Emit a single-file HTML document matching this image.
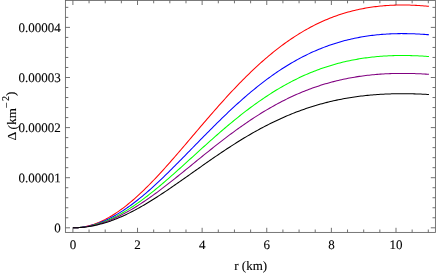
<!DOCTYPE html>
<html><head><meta charset="utf-8"><title>plot</title>
<style>
html,body{margin:0;padding:0;background:#fff;}
body{width:436px;height:273px;overflow:hidden;}
svg{display:block;}
text{font-family:"Liberation Serif",serif;fill:#000;stroke:#000;stroke-width:0.12px;}
</style></head><body>
<svg width="436" height="273" viewBox="0 0 436 273">
<rect x="0" y="0" width="436" height="273" fill="#fff"/>
<polyline fill="none" stroke="#ff0000" stroke-width="1.05" stroke-linejoin="round" points="72.90,227.80 74.52,227.78 76.14,227.71 77.76,227.61 79.37,227.46 80.99,227.26 82.61,227.03 84.23,226.75 85.85,226.43 87.47,226.07 89.08,225.66 90.70,225.21 92.32,224.73 93.94,224.20 95.56,223.63 97.18,223.02 98.79,222.37 100.41,221.67 102.03,220.94 103.65,220.17 105.27,219.37 106.89,218.52 108.51,217.64 110.12,216.71 111.74,215.76 113.36,214.76 114.98,213.73 116.60,212.67 118.22,211.57 119.83,210.44 121.45,209.27 123.07,208.07 124.69,206.84 126.31,205.58 127.93,204.28 129.55,202.96 131.16,201.61 132.78,200.23 134.40,198.82 136.02,197.38 137.64,195.92 139.26,194.43 140.87,192.92 142.49,191.38 144.11,189.82 145.73,188.24 147.35,186.63 148.97,185.00 150.58,183.36 152.20,181.69 153.82,180.01 155.44,178.30 157.06,176.58 158.68,174.84 160.30,173.09 161.91,171.32 163.53,169.54 165.15,167.75 166.77,165.94 168.39,164.12 170.01,162.29 171.62,160.45 173.24,158.61 174.86,156.75 176.48,154.88 178.10,153.01 179.72,151.13 181.34,149.25 182.95,147.36 184.57,145.47 186.19,143.57 187.81,141.67 189.43,139.77 191.05,137.87 192.66,135.96 194.28,134.06 195.90,132.16 197.52,130.26 199.14,128.36 200.76,126.46 202.37,124.57 203.99,122.68 205.61,120.80 207.23,118.92 208.85,117.05 210.47,115.18 212.09,113.32 213.70,111.47 215.32,109.62 216.94,107.79 218.56,105.96 220.18,104.14 221.80,102.33 223.41,100.54 225.03,98.75 226.65,96.97 228.27,95.21 229.89,93.46 231.51,91.72 233.13,89.99 234.74,88.28 236.36,86.58 237.98,84.90 239.60,83.23 241.22,81.57 242.84,79.93 244.45,78.30 246.07,76.69 247.69,75.10 249.31,73.52 250.93,71.96 252.55,70.41 254.16,68.89 255.78,67.38 257.40,65.88 259.02,64.41 260.64,62.95 262.26,61.51 263.88,60.08 265.49,58.68 267.11,57.29 268.73,55.93 270.35,54.58 271.97,53.25 273.59,51.94 275.20,50.64 276.82,49.37 278.44,48.12 280.06,46.88 281.68,45.66 283.30,44.47 284.92,43.29 286.53,42.13 288.15,40.99 289.77,39.87 291.39,38.77 293.01,37.69 294.63,36.63 296.24,35.59 297.86,34.57 299.48,33.56 301.10,32.58 302.72,31.62 304.34,30.67 305.95,29.74 307.57,28.84 309.19,27.95 310.81,27.08 312.43,26.23 314.05,25.40 315.67,24.59 317.28,23.79 318.90,23.02 320.52,22.26 322.14,21.52 323.76,20.80 325.38,20.10 326.99,19.41 328.61,18.75 330.23,18.10 331.85,17.47 333.47,16.86 335.09,16.26 336.71,15.68 338.32,15.12 339.94,14.58 341.56,14.05 343.18,13.54 344.80,13.04 346.42,12.57 348.03,12.10 349.65,11.66 351.27,11.23 352.89,10.82 354.51,10.42 356.13,10.04 357.74,9.67 359.36,9.32 360.98,8.98 362.60,8.66 364.22,8.36 365.84,8.06 367.46,7.79 369.07,7.52 370.69,7.27 372.31,7.04 373.93,6.82 375.55,6.61 377.17,6.41 378.78,6.23 380.40,6.07 382.02,5.91 383.64,5.77 385.26,5.64 386.88,5.52 388.50,5.42 390.11,5.32 391.73,5.24 393.35,5.18 394.97,5.12 396.59,5.07 398.21,5.04 399.82,5.01 401.44,5.00 403.06,5.00 404.68,5.01 406.30,5.03 407.92,5.06 409.53,5.10 411.15,5.15 412.77,5.21 414.39,5.28 416.01,5.36 417.63,5.45 419.25,5.55 420.86,5.66 422.48,5.77 424.10,5.90 425.72,6.03 427.34,6.18 428.96,6.33"/>
<polyline fill="none" stroke="#0000ff" stroke-width="1.05" stroke-linejoin="round" points="72.90,227.80 74.52,227.78 76.14,227.73 77.76,227.63 79.37,227.50 80.99,227.33 82.61,227.13 84.23,226.88 85.85,226.60 87.47,226.29 89.08,225.94 90.70,225.55 92.32,225.12 93.94,224.66 95.56,224.16 97.18,223.63 98.79,223.06 100.41,222.46 102.03,221.82 103.65,221.15 105.27,220.45 106.89,219.71 108.51,218.94 110.12,218.14 111.74,217.30 113.36,216.44 114.98,215.54 116.60,214.61 118.22,213.65 119.83,212.67 121.45,211.65 123.07,210.60 124.69,209.53 126.31,208.43 127.93,207.30 129.55,206.15 131.16,204.97 132.78,203.77 134.40,202.54 136.02,201.29 137.64,200.01 139.26,198.71 140.87,197.40 142.49,196.06 144.11,194.69 145.73,193.31 147.35,191.92 148.97,190.50 150.58,189.06 152.20,187.61 153.82,186.14 155.44,184.66 157.06,183.16 158.68,181.64 160.30,180.11 161.91,178.57 163.53,177.02 165.15,175.46 166.77,173.88 168.39,172.30 170.01,170.70 171.62,169.10 173.24,167.49 174.86,165.87 176.48,164.24 178.10,162.61 179.72,160.97 181.34,159.33 182.95,157.68 184.57,156.03 186.19,154.38 187.81,152.73 189.43,151.07 191.05,149.41 192.66,147.75 194.28,146.09 195.90,144.44 197.52,142.78 199.14,141.12 200.76,139.47 202.37,137.82 203.99,136.18 205.61,134.53 207.23,132.90 208.85,131.26 210.47,129.64 212.09,128.02 213.70,126.40 215.32,124.79 216.94,123.19 218.56,121.60 220.18,120.02 221.80,118.44 223.41,116.87 225.03,115.32 226.65,113.77 228.27,112.23 229.89,110.70 231.51,109.19 233.13,107.68 234.74,106.19 236.36,104.71 237.98,103.24 239.60,101.78 241.22,100.34 242.84,98.91 244.45,97.49 246.07,96.09 247.69,94.70 249.31,93.33 250.93,91.96 252.55,90.62 254.16,89.29 255.78,87.97 257.40,86.67 259.02,85.38 260.64,84.11 262.26,82.85 263.88,81.61 265.49,80.39 267.11,79.18 268.73,77.99 270.35,76.81 271.97,75.65 273.59,74.51 275.20,73.38 276.82,72.27 278.44,71.18 280.06,70.10 281.68,69.04 283.30,68.00 284.92,66.98 286.53,65.97 288.15,64.97 289.77,64.00 291.39,63.04 293.01,62.10 294.63,61.17 296.24,60.26 297.86,59.37 299.48,58.50 301.10,57.64 302.72,56.80 304.34,55.98 305.95,55.17 307.57,54.38 309.19,53.60 310.81,52.85 312.43,52.10 314.05,51.38 315.67,50.67 317.28,49.98 318.90,49.30 320.52,48.64 322.14,48.00 323.76,47.37 325.38,46.76 326.99,46.16 328.61,45.58 330.23,45.02 331.85,44.47 333.47,43.93 335.09,43.41 336.71,42.91 338.32,42.42 339.94,41.95 341.56,41.49 343.18,41.04 344.80,40.61 346.42,40.19 348.03,39.79 349.65,39.40 351.27,39.03 352.89,38.67 354.51,38.32 356.13,37.99 357.74,37.67 359.36,37.37 360.98,37.07 362.60,36.79 364.22,36.52 365.84,36.27 367.46,36.03 369.07,35.80 370.69,35.58 372.31,35.38 373.93,35.18 375.55,35.00 377.17,34.83 378.78,34.68 380.40,34.53 382.02,34.39 383.64,34.27 385.26,34.16 386.88,34.06 388.50,33.96 390.11,33.88 391.73,33.81 393.35,33.75 394.97,33.70 396.59,33.66 398.21,33.63 399.82,33.61 401.44,33.60 403.06,33.60 404.68,33.61 406.30,33.63 407.92,33.65 409.53,33.69 411.15,33.73 412.77,33.78 414.39,33.85 416.01,33.91 417.63,33.99 419.25,34.08 420.86,34.17 422.48,34.27 424.10,34.38 425.72,34.50 427.34,34.62 428.96,34.76"/>
<polyline fill="none" stroke="#00ff00" stroke-width="1.05" stroke-linejoin="round" points="72.90,227.80 74.52,227.78 76.14,227.73 77.76,227.65 79.37,227.53 80.99,227.38 82.61,227.20 84.23,226.99 85.85,226.74 87.47,226.46 89.08,226.15 90.70,225.80 92.32,225.42 93.94,225.01 95.56,224.57 97.18,224.10 98.79,223.60 100.41,223.06 102.03,222.50 103.65,221.90 105.27,221.28 106.89,220.62 108.51,219.94 110.12,219.23 111.74,218.49 113.36,217.72 114.98,216.92 116.60,216.10 118.22,215.25 119.83,214.37 121.45,213.47 123.07,212.54 124.69,211.59 126.31,210.61 127.93,209.61 129.55,208.59 131.16,207.54 132.78,206.48 134.40,205.39 136.02,204.28 137.64,203.15 139.26,201.99 140.87,200.82 142.49,199.64 144.11,198.43 145.73,197.20 147.35,195.96 148.97,194.70 150.58,193.43 152.20,192.14 153.82,190.84 155.44,189.52 157.06,188.19 158.68,186.85 160.30,185.49 161.91,184.13 163.53,182.75 165.15,181.36 166.77,179.96 168.39,178.56 170.01,177.14 171.62,175.72 173.24,174.29 174.86,172.85 176.48,171.41 178.10,169.96 179.72,168.51 181.34,167.05 182.95,165.59 184.57,164.13 186.19,162.66 187.81,161.19 189.43,159.72 191.05,158.25 192.66,156.78 194.28,155.31 195.90,153.84 197.52,152.37 199.14,150.90 200.76,149.43 202.37,147.97 203.99,146.51 205.61,145.05 207.23,143.60 208.85,142.15 210.47,140.71 212.09,139.27 213.70,137.84 215.32,136.41 216.94,134.99 218.56,133.58 220.18,132.17 221.80,130.77 223.41,129.38 225.03,128.00 226.65,126.63 228.27,125.26 229.89,123.91 231.51,122.56 233.13,121.23 234.74,119.90 236.36,118.59 237.98,117.29 239.60,116.00 241.22,114.71 242.84,113.45 244.45,112.19 246.07,110.94 247.69,109.71 249.31,108.49 250.93,107.28 252.55,106.09 254.16,104.91 255.78,103.74 257.40,102.58 259.02,101.44 260.64,100.31 262.26,99.20 263.88,98.10 265.49,97.01 267.11,95.94 268.73,94.88 270.35,93.84 271.97,92.81 273.59,91.80 275.20,90.80 276.82,89.81 278.44,88.84 280.06,87.89 281.68,86.95 283.30,86.02 284.92,85.11 286.53,84.22 288.15,83.34 289.77,82.47 291.39,81.62 293.01,80.78 294.63,79.96 296.24,79.16 297.86,78.37 299.48,77.59 301.10,76.83 302.72,76.08 304.34,75.35 305.95,74.64 307.57,73.93 309.19,73.25 310.81,72.58 312.43,71.92 314.05,71.27 315.67,70.65 317.28,70.03 318.90,69.43 320.52,68.85 322.14,68.28 323.76,67.72 325.38,67.18 326.99,66.65 328.61,66.13 330.23,65.63 331.85,65.14 333.47,64.67 335.09,64.21 336.71,63.76 338.32,63.33 339.94,62.90 341.56,62.50 343.18,62.10 344.80,61.72 346.42,61.35 348.03,60.99 349.65,60.65 351.27,60.32 352.89,60.00 354.51,59.69 356.13,59.40 357.74,59.11 359.36,58.84 360.98,58.58 362.60,58.33 364.22,58.10 365.84,57.87 367.46,57.65 369.07,57.45 370.69,57.26 372.31,57.08 373.93,56.91 375.55,56.74 377.17,56.59 378.78,56.45 380.40,56.32 382.02,56.20 383.64,56.09 385.26,55.99 386.88,55.90 388.50,55.82 390.11,55.75 391.73,55.69 393.35,55.64 394.97,55.59 396.59,55.56 398.21,55.53 399.82,55.51 401.44,55.50 403.06,55.50 404.68,55.51 406.30,55.52 407.92,55.55 409.53,55.58 411.15,55.62 412.77,55.66 414.39,55.72 416.01,55.78 417.63,55.85 419.25,55.92 420.86,56.01 422.48,56.10 424.10,56.19 425.72,56.30 427.34,56.41 428.96,56.53"/>
<polyline fill="none" stroke="#800080" stroke-width="1.05" stroke-linejoin="round" points="72.90,227.80 74.52,227.79 76.14,227.74 77.76,227.67 79.37,227.56 80.99,227.43 82.61,227.26 84.23,227.07 85.85,226.85 87.47,226.60 89.08,226.32 90.70,226.01 92.32,225.67 93.94,225.30 95.56,224.91 97.18,224.48 98.79,224.03 100.41,223.55 102.03,223.05 103.65,222.52 105.27,221.96 106.89,221.37 108.51,220.76 110.12,220.12 111.74,219.45 113.36,218.77 114.98,218.05 116.60,217.31 118.22,216.55 119.83,215.77 121.45,214.96 123.07,214.13 124.69,213.27 126.31,212.40 127.93,211.50 129.55,210.59 131.16,209.65 132.78,208.69 134.40,207.72 136.02,206.72 137.64,205.71 139.26,204.68 140.87,203.63 142.49,202.56 144.11,201.48 145.73,200.38 147.35,199.27 148.97,198.14 150.58,197.00 152.20,195.85 153.82,194.68 155.44,193.50 157.06,192.31 158.68,191.10 160.30,189.89 161.91,188.66 163.53,187.43 165.15,186.18 166.77,184.93 168.39,183.67 170.01,182.40 171.62,181.13 173.24,179.85 174.86,178.56 176.48,177.27 178.10,175.97 179.72,174.67 181.34,173.36 182.95,172.05 184.57,170.74 186.19,169.43 187.81,168.11 189.43,166.79 191.05,165.48 192.66,164.16 194.28,162.84 195.90,161.52 197.52,160.20 199.14,158.89 200.76,157.57 202.37,156.26 203.99,154.95 205.61,153.65 207.23,152.35 208.85,151.05 210.47,149.75 212.09,148.47 213.70,147.18 215.32,145.90 216.94,144.63 218.56,143.36 220.18,142.11 221.80,140.85 223.41,139.61 225.03,138.37 226.65,137.14 228.27,135.92 229.89,134.70 231.51,133.50 233.13,132.30 234.74,131.11 236.36,129.94 237.98,128.77 239.60,127.61 241.22,126.46 242.84,125.33 244.45,124.20 246.07,123.08 247.69,121.98 249.31,120.89 250.93,119.80 252.55,118.73 254.16,117.67 255.78,116.63 257.40,115.59 259.02,114.57 260.64,113.56 262.26,112.56 263.88,111.57 265.49,110.60 267.11,109.64 268.73,108.69 270.35,107.76 271.97,106.84 273.59,105.93 275.20,105.03 276.82,104.15 278.44,103.28 280.06,102.42 281.68,101.58 283.30,100.75 284.92,99.94 286.53,99.13 288.15,98.34 289.77,97.57 291.39,96.81 293.01,96.06 294.63,95.32 296.24,94.60 297.86,93.89 299.48,93.20 301.10,92.51 302.72,91.85 304.34,91.19 305.95,90.55 307.57,89.92 309.19,89.30 310.81,88.70 312.43,88.11 314.05,87.54 315.67,86.97 317.28,86.42 318.90,85.89 320.52,85.36 322.14,84.85 323.76,84.35 325.38,83.86 326.99,83.39 328.61,82.93 330.23,82.48 331.85,82.04 333.47,81.62 335.09,81.20 336.71,80.80 338.32,80.41 339.94,80.04 341.56,79.67 343.18,79.32 344.80,78.97 346.42,78.64 348.03,78.32 349.65,78.01 351.27,77.72 352.89,77.43 354.51,77.16 356.13,76.89 357.74,76.64 359.36,76.39 360.98,76.16 362.60,75.94 364.22,75.73 365.84,75.52 367.46,75.33 369.07,75.15 370.69,74.98 372.31,74.81 373.93,74.66 375.55,74.52 377.17,74.38 378.78,74.26 380.40,74.14 382.02,74.03 383.64,73.93 385.26,73.84 386.88,73.76 388.50,73.69 390.11,73.62 391.73,73.57 393.35,73.52 394.97,73.48 396.59,73.45 398.21,73.43 399.82,73.41 401.44,73.40 403.06,73.40 404.68,73.41 406.30,73.42 407.92,73.44 409.53,73.47 411.15,73.50 412.77,73.55 414.39,73.60 416.01,73.65 417.63,73.71 419.25,73.78 420.86,73.85 422.48,73.94 424.10,74.02 425.72,74.12 427.34,74.21 428.96,74.32"/>
<polyline fill="none" stroke="#000000" stroke-width="1.05" stroke-linejoin="round" points="72.90,227.80 74.52,227.79 76.14,227.75 77.76,227.68 79.37,227.59 80.99,227.48 82.61,227.34 84.23,227.17 85.85,226.97 87.47,226.76 89.08,226.51 90.70,226.24 92.32,225.95 93.94,225.63 95.56,225.29 97.18,224.92 98.79,224.53 100.41,224.11 102.03,223.67 103.65,223.21 105.27,222.72 106.89,222.21 108.51,221.68 110.12,221.13 111.74,220.55 113.36,219.95 114.98,219.33 116.60,218.69 118.22,218.03 119.83,217.35 121.45,216.65 123.07,215.93 124.69,215.18 126.31,214.42 127.93,213.65 129.55,212.85 131.16,212.04 132.78,211.20 134.40,210.36 136.02,209.49 137.64,208.61 139.26,207.72 140.87,206.80 142.49,205.88 144.11,204.94 145.73,203.99 147.35,203.02 148.97,202.04 150.58,201.05 152.20,200.05 153.82,199.03 155.44,198.01 157.06,196.97 158.68,195.93 160.30,194.87 161.91,193.81 163.53,192.74 165.15,191.66 166.77,190.57 168.39,189.47 170.01,188.37 171.62,187.27 173.24,186.15 174.86,185.03 176.48,183.91 178.10,182.79 179.72,181.65 181.34,180.52 182.95,179.38 184.57,178.24 186.19,177.10 187.81,175.96 189.43,174.82 191.05,173.67 192.66,172.53 194.28,171.38 195.90,170.23 197.52,169.09 199.14,167.95 200.76,166.81 202.37,165.67 203.99,164.53 205.61,163.40 207.23,162.27 208.85,161.14 210.47,160.02 212.09,158.90 213.70,157.78 215.32,156.67 216.94,155.57 218.56,154.47 220.18,153.37 221.80,152.28 223.41,151.20 225.03,150.13 226.65,149.06 228.27,148.00 229.89,146.94 231.51,145.90 233.13,144.86 234.74,143.83 236.36,142.80 237.98,141.79 239.60,140.78 241.22,139.79 242.84,138.80 244.45,137.82 246.07,136.85 247.69,135.89 249.31,134.94 250.93,134.00 252.55,133.07 254.16,132.15 255.78,131.24 257.40,130.34 259.02,129.46 260.64,128.58 262.26,127.71 263.88,126.85 265.49,126.01 267.11,125.18 268.73,124.35 270.35,123.54 271.97,122.74 273.59,121.95 275.20,121.17 276.82,120.41 278.44,119.65 280.06,118.91 281.68,118.18 283.30,117.46 284.92,116.75 286.53,116.05 288.15,115.36 289.77,114.69 291.39,114.03 293.01,113.38 294.63,112.74 296.24,112.11 297.86,111.50 299.48,110.89 301.10,110.30 302.72,109.72 304.34,109.15 305.95,108.59 307.57,108.05 309.19,107.51 310.81,106.99 312.43,106.48 314.05,105.98 315.67,105.49 317.28,105.01 318.90,104.54 320.52,104.09 322.14,103.64 323.76,103.21 325.38,102.79 326.99,102.38 328.61,101.97 330.23,101.58 331.85,101.20 333.47,100.84 335.09,100.48 336.71,100.13 338.32,99.79 339.94,99.46 341.56,99.15 343.18,98.84 344.80,98.54 346.42,98.25 348.03,97.98 349.65,97.71 351.27,97.45 352.89,97.20 354.51,96.96 356.13,96.73 357.74,96.51 359.36,96.30 360.98,96.10 362.60,95.90 364.22,95.72 365.84,95.54 367.46,95.38 369.07,95.22 370.69,95.07 372.31,94.93 373.93,94.79 375.55,94.67 377.17,94.55 378.78,94.44 380.40,94.34 382.02,94.25 383.64,94.16 385.26,94.08 386.88,94.01 388.50,93.95 390.11,93.90 391.73,93.85 393.35,93.81 394.97,93.77 396.59,93.74 398.21,93.72 399.82,93.71 401.44,93.70 403.06,93.70 404.68,93.71 406.30,93.72 407.92,93.74 409.53,93.76 411.15,93.79 412.77,93.83 414.39,93.87 416.01,93.92 417.63,93.97 419.25,94.03 420.86,94.10 422.48,94.17 424.10,94.24 425.72,94.32 427.34,94.41 428.96,94.50"/>
<path d="M72.90 232.4V227.80M72.90 0.4V5.00M89.06 232.4V229.50M89.06 0.4V3.30M105.21 232.4V229.50M105.21 0.4V3.30M121.37 232.4V229.50M121.37 0.4V3.30M137.52 232.4V227.80M137.52 0.4V5.00M153.68 232.4V229.50M153.68 0.4V3.30M169.83 232.4V229.50M169.83 0.4V3.30M185.99 232.4V229.50M185.99 0.4V3.30M202.14 232.4V227.80M202.14 0.4V5.00M218.30 232.4V229.50M218.30 0.4V3.30M234.45 232.4V229.50M234.45 0.4V3.30M250.61 232.4V229.50M250.61 0.4V3.30M266.76 232.4V227.80M266.76 0.4V5.00M282.92 232.4V229.50M282.92 0.4V3.30M299.07 232.4V229.50M299.07 0.4V3.30M315.23 232.4V229.50M315.23 0.4V3.30M331.38 232.4V227.80M331.38 0.4V5.00M347.53 232.4V229.50M347.53 0.4V3.30M363.69 232.4V229.50M363.69 0.4V3.30M379.85 232.4V229.50M379.85 0.4V3.30M396.00 232.4V227.80M396.00 0.4V5.00M412.15 232.4V229.50M412.15 0.4V3.30M428.31 232.4V229.50M428.31 0.4V3.30M65.4 227.80H70.00M435.4 227.80H430.80M65.4 217.78H68.30M435.4 217.78H432.50M65.4 207.76H68.30M435.4 207.76H432.50M65.4 197.74H68.30M435.4 197.74H432.50M65.4 187.72H68.30M435.4 187.72H432.50M65.4 177.70H70.00M435.4 177.70H430.80M65.4 167.68H68.30M435.4 167.68H432.50M65.4 157.66H68.30M435.4 157.66H432.50M65.4 147.64H68.30M435.4 147.64H432.50M65.4 137.62H68.30M435.4 137.62H432.50M65.4 127.60H70.00M435.4 127.60H430.80M65.4 117.58H68.30M435.4 117.58H432.50M65.4 107.56H68.30M435.4 107.56H432.50M65.4 97.54H68.30M435.4 97.54H432.50M65.4 87.52H68.30M435.4 87.52H432.50M65.4 77.50H70.00M435.4 77.50H430.80M65.4 67.48H68.30M435.4 67.48H432.50M65.4 57.46H68.30M435.4 57.46H432.50M65.4 47.44H68.30M435.4 47.44H432.50M65.4 37.42H68.30M435.4 37.42H432.50M65.4 27.40H70.00M435.4 27.40H430.80M65.4 17.38H68.30M435.4 17.38H432.50M65.4 7.36H68.30M435.4 7.36H432.50" stroke="#333" stroke-width="0.7" fill="none"/>
<rect x="65.4" y="0.4" width="370.0" height="232.0" fill="none" stroke="#606060" stroke-width="0.85"/>
<g opacity="0.999">
<text transform="translate(60.70,232.30) rotate(0.03)" font-size="13" text-anchor="end">0</text>
<text transform="translate(60.70,182.20) rotate(0.03)" font-size="13" text-anchor="end">0.00001</text>
<text transform="translate(60.70,132.10) rotate(0.03)" font-size="13" text-anchor="end">0.00002</text>
<text transform="translate(60.70,82.00) rotate(0.03)" font-size="13" text-anchor="end">0.00003</text>
<text transform="translate(60.70,31.90) rotate(0.03)" font-size="13" text-anchor="end">0.00004</text>
<text transform="translate(72.90,249.00) rotate(0.03)" font-size="13" text-anchor="middle">0</text>
<text transform="translate(137.52,249.00) rotate(0.03)" font-size="13" text-anchor="middle">2</text>
<text transform="translate(202.14,249.00) rotate(0.03)" font-size="13" text-anchor="middle">4</text>
<text transform="translate(266.76,249.00) rotate(0.03)" font-size="13" text-anchor="middle">6</text>
<text transform="translate(331.38,249.00) rotate(0.03)" font-size="13" text-anchor="middle">8</text>
<text transform="translate(396.00,249.00) rotate(0.03)" font-size="13" text-anchor="middle">10</text>
<text transform="translate(250.65,270.00) rotate(0.03)" font-size="13" text-anchor="middle">r (km)</text>
<text transform="translate(16,140.4) rotate(-90)" font-size="13" text-anchor="start"><tspan font-size="13.5">Δ</tspan><tspan dx="-1.0" dy="0.6">&#160;(</tspan><tspan dy="-0.6" dx="0.3">km</tspan><tspan font-size="10" dy="-7" dx="0.5">–</tspan><tspan font-size="10" dx="1.6">2</tspan><tspan dy="6.1" dx="0">)</tspan></text>
</g>
</svg>
</body></html>
